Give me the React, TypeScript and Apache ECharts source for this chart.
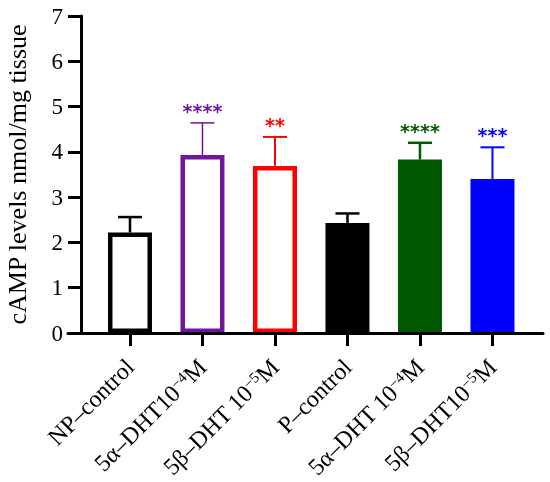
import React, { useEffect, useRef } from "react";
import * as echarts from "echarts";

const categories = [
  "NP–control",
  "5α–DHT10{s|−4}M",
  "5β–DHT 10{s|−5}M",
  "P–control",
  "5α–DHT 10{s|−4}M",
  "5β–DHT10{s|−5}M",
];
const means = [2.22, 3.93, 3.69, 2.43, 3.83, 3.4];
const sems = [0.34, 0.71, 0.64, 0.21, 0.37, 0.7];
const stars = ["", "****", "**", "", "****", "***"];
const filled = [false, false, false, true, true, true];

const barColors = ["#000000", "#72159E", "#FF0000", "#000000", "#005800", "#0000FF"];
const errWidths = [2.5, 1.5, 2, 2.5, 2.5, 2];
const SERIF = "'Liberation Serif', 'Times New Roman', serif";

export default function App() {
  const ref = useRef<HTMLDivElement>(null);
  useEffect(() => {
    const chart = echarts.init(ref.current!, null, { renderer: "svg" });
    const idx = categories.map((_, i) => i);
    chart.setOption({
      animation: false,
      grid: {
        left: 68,
        right: 7,
        top: 16,
        bottom: 149,
        containLabel: false,
        outerBoundsMode: "none",
      },
      xAxis: {
        type: "value",
        z: 5,
        min: -0.855,
        max: 5.697,
        axisLine: { show: true, onZero: false, lineStyle: { color: "#000", width: 3 } },
        axisTick: {
          show: true,
          customValues: idx,
          length: 13,
          lineStyle: { color: "#000", width: 3 },
        },
        axisLabel: {
          customValues: idx,
          rotate: 45,
          margin: 30,
          formatter: (v: number) => categories[Math.round(v)],
          color: "#000",
          fontFamily: SERIF,
          fontSize: 24,
          lineHeight: 24,
          rich: {
            s: {
              fontSize: 15,
              lineHeight: 15,
              fontFamily: SERIF,
              color: "#000",
              verticalAlign: "top",
            },
          },
        },
        splitLine: { show: false },
      },
      yAxis: {
        type: "value",
        min: 0,
        max: 7,
        interval: 1,
        offset: -13,
        name: "cAMP levels nmol/mg tissue",
        nameLocation: "middle",
        nameGap: 51,
        nameRotate: 90,
        nameTextStyle: { color: "#000", fontFamily: SERIF, fontSize: 26 },
        axisLine: { show: true, onZero: false, lineStyle: { color: "#000", width: 3 } },
        axisTick: { show: true, length: 13, lineStyle: { color: "#000", width: 3 } },
        axisLabel: { margin: 18, color: "#000", fontFamily: SERIF, fontSize: 23 },
        splitLine: { show: false },
      },
      series: [
        {
          type: "bar",
          barWidth: 44,
          data: means.map((m, i) => ({
            value: [i, m],
            itemStyle: {
              color: filled[i] ? barColors[i] : "#ffffff",
              borderColor: barColors[i],
              borderWidth: 4.5,
            },
          })),
        },
        {
          type: "custom",
          z: 3,
          encode: { x: 0, y: 1 },
          data: means.map((m, i) => [i, m, sems[i]]),
          renderItem: (params: any, api: any) => {
            const i = params.dataIndex;
            const x = api.value(0);
            const m = api.value(1);
            const e = api.value(2);
            const b = api.coord([x, m]);
            const t = api.coord([x, m + e]);
            const c = barColors[i];
            const w = errWidths[i];
            const children: any[] = [
              { type: "line", shape: { x1: b[0], y1: b[1], x2: t[0], y2: t[1] }, style: { stroke: c, lineWidth: w } },
              { type: "line", shape: { x1: t[0] - 12, y1: t[1], x2: t[0] + 12, y2: t[1] }, style: { stroke: c, lineWidth: w } },
            ];
            if (stars[i]) {
              children.push({
                type: "text",
                style: {
                  text: stars[i],
                  x: t[0],
                  y: t[1] - 12,
                  fill: c,
                  font: "bold 19px 'DejaVu Sans'",
                  align: "center",
                  verticalAlign: "middle",
                },
              });
            }
            return { type: "group", children };
          },
        },
      ],
    });
    return () => chart.dispose();
  }, []);
  return (
    <div
      ref={ref}
      style={{ position: "fixed", left: 0, top: 0, width: 550, height: 482 }}
    />
  );
}
